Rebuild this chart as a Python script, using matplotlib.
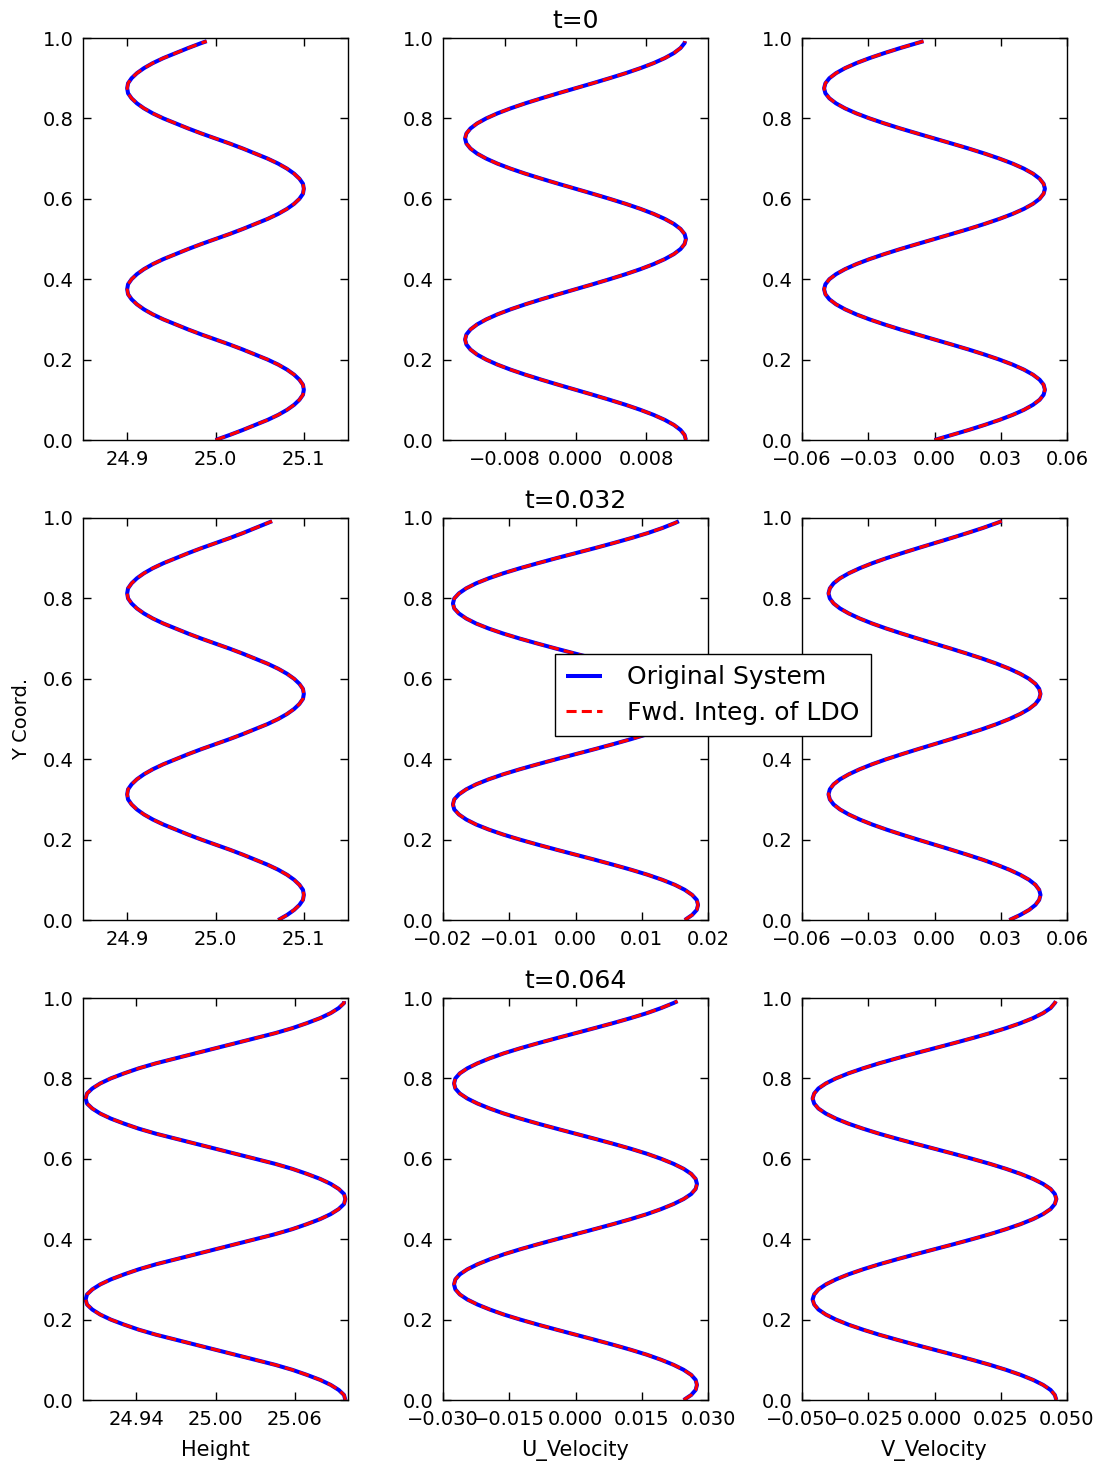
import matplotlib
matplotlib.use("Agg")
import matplotlib.pyplot as plt

# ---------------- data ----------------
# vertical coordinate of the profile samples (grid of the model)
Y_COORD = [k / 80 for k in range(80)] + [0.992]

# t = 0
HEIGHT_T0 = [25.000, 25.016, 25.031, 25.045, 25.059, 25.071, 25.081, 25.089, 25.095, 25.099,
             25.100, 25.099, 25.095, 25.089, 25.081, 25.071, 25.059, 25.045, 25.031, 25.016,
             25.000, 24.984, 24.969, 24.955, 24.941, 24.929, 24.919, 24.911, 24.905, 24.901,
             24.900, 24.901, 24.905, 24.911, 24.919, 24.929, 24.941, 24.955, 24.969, 24.984,
             25.000, 25.016, 25.031, 25.045, 25.059, 25.071, 25.081, 25.089, 25.095, 25.099,
             25.100, 25.099, 25.095, 25.089, 25.081, 25.071, 25.059, 25.045, 25.031, 25.016,
             25.000, 24.984, 24.969, 24.955, 24.941, 24.929, 24.919, 24.911, 24.905, 24.901,
             24.900, 24.901, 24.905, 24.911, 24.919, 24.929, 24.941, 24.955, 24.969, 24.984,
             24.990]
U_T0 = [0.01250, 0.01235, 0.01189, 0.01114, 0.01011, 0.00884, 0.00735, 0.00568, 0.00386, 0.00196,
        0.00000, -0.00196, -0.00386, -0.00568, -0.00735, -0.00884, -0.01011, -0.01114, -0.01189, -0.01235,
        -0.01250, -0.01235, -0.01189, -0.01114, -0.01011, -0.00884, -0.00735, -0.00568, -0.00386, -0.00196,
        0.00000, 0.00196, 0.00386, 0.00568, 0.00735, 0.00884, 0.01011, 0.01114, 0.01189, 0.01235,
        0.01250, 0.01235, 0.01189, 0.01114, 0.01011, 0.00884, 0.00735, 0.00568, 0.00386, 0.00196,
        0.00000, -0.00196, -0.00386, -0.00568, -0.00735, -0.00884, -0.01011, -0.01114, -0.01189, -0.01235,
        -0.01250, -0.01235, -0.01189, -0.01114, -0.01011, -0.00884, -0.00735, -0.00568, -0.00386, -0.00196,
        0.00000, 0.00196, 0.00386, 0.00568, 0.00735, 0.00884, 0.01011, 0.01114, 0.01189, 0.01235,
        0.01240]
V_T0 = [0.0000, 0.0078, 0.0155, 0.0227, 0.0294, 0.0354, 0.0405, 0.0446, 0.0476, 0.0494,
        0.0500, 0.0494, 0.0476, 0.0446, 0.0405, 0.0354, 0.0294, 0.0227, 0.0155, 0.0078,
        0.0000, -0.0078, -0.0155, -0.0227, -0.0294, -0.0354, -0.0405, -0.0446, -0.0476, -0.0494,
        -0.0500, -0.0494, -0.0476, -0.0446, -0.0405, -0.0354, -0.0294, -0.0227, -0.0155, -0.0078,
        0.0000, 0.0078, 0.0155, 0.0227, 0.0294, 0.0354, 0.0405, 0.0446, 0.0476, 0.0494,
        0.0500, 0.0494, 0.0476, 0.0446, 0.0405, 0.0354, 0.0294, 0.0227, 0.0155, 0.0078,
        0.0000, -0.0078, -0.0155, -0.0227, -0.0294, -0.0354, -0.0405, -0.0446, -0.0476, -0.0494,
        -0.0500, -0.0494, -0.0476, -0.0446, -0.0405, -0.0354, -0.0294, -0.0227, -0.0155, -0.0078,
        -0.0050]

# t = 0.032
HEIGHT_T1 = [25.071, 25.081, 25.089, 25.095, 25.099, 25.100, 25.099, 25.095, 25.089, 25.081,
             25.071, 25.059, 25.045, 25.031, 25.016, 25.000, 24.984, 24.969, 24.955, 24.941,
             24.929, 24.919, 24.911, 24.905, 24.901, 24.900, 24.901, 24.905, 24.911, 24.919,
             24.929, 24.941, 24.955, 24.969, 24.984, 25.000, 25.016, 25.031, 25.045, 25.059,
             25.071, 25.081, 25.089, 25.095, 25.099, 25.100, 25.099, 25.095, 25.089, 25.081,
             25.071, 25.059, 25.045, 25.031, 25.016, 25.000, 24.984, 24.969, 24.955, 24.941,
             24.929, 24.919, 24.911, 24.905, 24.901, 24.900, 24.901, 24.905, 24.911, 24.919,
             24.929, 24.941, 24.955, 24.969, 24.984, 25.000, 25.016, 25.031, 25.045, 25.059,
             25.064]
U_T1 = [0.0165, 0.0176, 0.0183, 0.0185, 0.0183, 0.0176, 0.0165, 0.0150, 0.0131, 0.0109,
        0.0084, 0.0057, 0.0029, 0.0000, -0.0029, -0.0057, -0.0084, -0.0109, -0.0131, -0.0150,
        -0.0165, -0.0176, -0.0183, -0.0185, -0.0183, -0.0176, -0.0165, -0.0150, -0.0131, -0.0109,
        -0.0084, -0.0057, -0.0029, 0.0000, 0.0029, 0.0057, 0.0084, 0.0109, 0.0131, 0.0150,
        0.0165, 0.0176, 0.0183, 0.0185, 0.0183, 0.0176, 0.0165, 0.0150, 0.0131, 0.0109,
        0.0084, 0.0057, 0.0029, 0.0000, -0.0029, -0.0057, -0.0084, -0.0109, -0.0131, -0.0150,
        -0.0165, -0.0176, -0.0183, -0.0185, -0.0183, -0.0176, -0.0165, -0.0150, -0.0131, -0.0109,
        -0.0084, -0.0057, -0.0029, 0.0000, 0.0029, 0.0057, 0.0084, 0.0109, 0.0131, 0.0150,
        0.0156]
V_T1 = [0.0339, 0.0388, 0.0428, 0.0457, 0.0474, 0.0480, 0.0474, 0.0457, 0.0428, 0.0388,
        0.0339, 0.0282, 0.0218, 0.0148, 0.0075, 0.0000, -0.0075, -0.0148, -0.0218, -0.0282,
        -0.0339, -0.0388, -0.0428, -0.0457, -0.0474, -0.0480, -0.0474, -0.0457, -0.0428, -0.0388,
        -0.0339, -0.0282, -0.0218, -0.0148, -0.0075, 0.0000, 0.0075, 0.0148, 0.0218, 0.0282,
        0.0339, 0.0388, 0.0428, 0.0457, 0.0474, 0.0480, 0.0474, 0.0457, 0.0428, 0.0388,
        0.0339, 0.0282, 0.0218, 0.0148, 0.0075, 0.0000, -0.0075, -0.0148, -0.0218, -0.0282,
        -0.0339, -0.0388, -0.0428, -0.0457, -0.0474, -0.0480, -0.0474, -0.0457, -0.0428, -0.0388,
        -0.0339, -0.0282, -0.0218, -0.0148, -0.0075, 0.0000, 0.0075, 0.0148, 0.0218, 0.0282,
        0.0304]

# t = 0.064
HEIGHT_T2 = [25.098, 25.097, 25.093, 25.087, 25.079, 25.069, 25.058, 25.045, 25.030, 25.015,
             25.000, 24.985, 24.970, 24.955, 24.942, 24.931, 24.921, 24.913, 24.907, 24.903,
             24.902, 24.903, 24.907, 24.913, 24.921, 24.931, 24.942, 24.955, 24.970, 24.985,
             25.000, 25.015, 25.030, 25.045, 25.058, 25.069, 25.079, 25.087, 25.093, 25.097,
             25.098, 25.097, 25.093, 25.087, 25.079, 25.069, 25.058, 25.045, 25.030, 25.015,
             25.000, 24.985, 24.970, 24.955, 24.942, 24.931, 24.921, 24.913, 24.907, 24.903,
             24.902, 24.903, 24.907, 24.913, 24.921, 24.931, 24.942, 24.955, 24.970, 24.985,
             25.000, 25.015, 25.030, 25.045, 25.058, 25.069, 25.079, 25.087, 25.093, 25.097,
             25.097]
U_T2 = [0.0245, 0.0262, 0.0272, 0.0275, 0.0272, 0.0262, 0.0245, 0.0222, 0.0194, 0.0162,
        0.0125, 0.0085, 0.0043, 0.0000, -0.0043, -0.0085, -0.0125, -0.0162, -0.0194, -0.0222,
        -0.0245, -0.0262, -0.0272, -0.0275, -0.0272, -0.0262, -0.0245, -0.0222, -0.0194, -0.0162,
        -0.0125, -0.0085, -0.0043, 0.0000, 0.0043, 0.0085, 0.0125, 0.0162, 0.0194, 0.0222,
        0.0245, 0.0262, 0.0272, 0.0275, 0.0272, 0.0262, 0.0245, 0.0222, 0.0194, 0.0162,
        0.0125, 0.0085, 0.0043, 0.0000, -0.0043, -0.0085, -0.0125, -0.0162, -0.0194, -0.0222,
        -0.0245, -0.0262, -0.0272, -0.0275, -0.0272, -0.0262, -0.0245, -0.0222, -0.0194, -0.0162,
        -0.0125, -0.0085, -0.0043, 0.0000, 0.0043, 0.0085, 0.0125, 0.0162, 0.0194, 0.0222,
        0.0231]
V_T2 = [0.0460, 0.0454, 0.0438, 0.0410, 0.0372, 0.0325, 0.0270, 0.0209, 0.0142, 0.0072,
        0.0000, -0.0072, -0.0142, -0.0209, -0.0270, -0.0325, -0.0372, -0.0410, -0.0438, -0.0454,
        -0.0460, -0.0454, -0.0438, -0.0410, -0.0372, -0.0325, -0.0270, -0.0209, -0.0142, -0.0072,
        0.0000, 0.0072, 0.0142, 0.0209, 0.0270, 0.0325, 0.0372, 0.0410, 0.0438, 0.0454,
        0.0460, 0.0454, 0.0438, 0.0410, 0.0372, 0.0325, 0.0270, 0.0209, 0.0142, 0.0072,
        0.0000, -0.0072, -0.0142, -0.0209, -0.0270, -0.0325, -0.0372, -0.0410, -0.0438, -0.0454,
        -0.0460, -0.0454, -0.0438, -0.0410, -0.0372, -0.0325, -0.0270, -0.0209, -0.0142, -0.0072,
        0.0000, 0.0072, 0.0142, 0.0209, 0.0270, 0.0325, 0.0372, 0.0410, 0.0438, 0.0454,
        0.0458]

TIMES = ["t=0", "t=0.032", "t=0.064"]
VARIABLES = ["Height", "U_Velocity", "V_Velocity"]
SERIES_LABELS = ["Original System", "Fwd. Integ. of LDO"]
Y_LABEL = "Y Coord."

# x ticks / labels / limits for each panel [row][col]
X_TICKS = [
    [[24.9, 25.0, 25.1], [-0.008, 0.0, 0.008], [-0.06, -0.03, 0.0, 0.03, 0.06]],
    [[24.9, 25.0, 25.1], [-0.02, -0.01, 0.0, 0.01, 0.02], [-0.06, -0.03, 0.0, 0.03, 0.06]],
    [[24.94, 25.00, 25.06], [-0.030, -0.015, 0.0, 0.015, 0.030], [-0.050, -0.025, 0.0, 0.025, 0.050]],
]
X_TICK_LABELS = [
    [["24.9", "25.0", "25.1"], ["\u22120.008", "0.000", "0.008"],
     ["\u22120.06", "\u22120.03", "0.00", "0.03", "0.06"]],
    [["24.9", "25.0", "25.1"], ["\u22120.02", "\u22120.01", "0.00", "0.01", "0.02"],
     ["\u22120.06", "\u22120.03", "0.00", "0.03", "0.06"]],
    [["24.94", "25.00", "25.06"], ["\u22120.030", "\u22120.015", "0.000", "0.015", "0.030"],
     ["\u22120.050", "\u22120.025", "0.000", "0.025", "0.050"]],
]
X_LIMITS = [
    [(24.85, 25.15), (-0.015, 0.015), (-0.06, 0.06)],
    [(24.85, 25.15), (-0.02, 0.02), (-0.06, 0.06)],
    [(24.90, 25.10), (-0.03, 0.03), (-0.05, 0.05)],
]
Y_TICKS = [0.0, 0.2, 0.4, 0.6, 0.8, 1.0]
Y_TICK_LABELS = ["0.0", "0.2", "0.4", "0.6", "0.8", "1.0"]

PROFILES = [
    [HEIGHT_T0, U_T0, V_T0],
    [HEIGHT_T1, U_T1, V_T1],
    [HEIGHT_T2, U_T2, V_T2],
]

# ---------------- figure ----------------
plt.rcParams["font.family"] = ["DejaVu Sans"]
W, H = 1099, 1466
fig = plt.figure(figsize=(W / 100, H / 100), dpi=100, facecolor="white")

col_x = [83, 443, 802]
row_top = [38, 518, 998]
ax_w, ax_h = 265, 402

handles = None
for r in range(3):
    for c in range(3):
        ax = fig.add_axes([col_x[c] / W, 1 - (row_top[r] + ax_h) / H, ax_w / W, ax_h / H])
        vals = PROFILES[r][c]
        l1, = ax.plot(vals, Y_COORD, color="#0000ff", lw=2.9, solid_joinstyle="round",
                      solid_capstyle="butt", label=SERIES_LABELS[0])
        l2, = ax.plot(vals, Y_COORD, color="#ff0000", lw=2.2, ls=(0, (3.3, 1.7)),
                      label=SERIES_LABELS[1])
        if handles is None:
            handles = [l1, l2]
        ax.set_xlim(*X_LIMITS[r][c])
        ax.set_ylim(0, 1)
        ax.set_xticks(X_TICKS[r][c])
        ax.set_xticklabels(X_TICK_LABELS[r][c])
        ax.set_yticks(Y_TICKS)
        ax.set_yticklabels(Y_TICK_LABELS)
        ax.tick_params(direction="in", top=True, right=True, length=6, width=1,
                       labelsize=14, pad=7, colors="black")
        for sp in ax.spines.values():
            sp.set_linewidth(1.0)
            sp.set_color("black")
        if c == 1:
            ax.set_title(TIMES[r], fontsize=18, pad=7)
        if r == 2:
            ax.set_xlabel(VARIABLES[c], fontsize=15, labelpad=8)
        if r == 1 and c == 0:
            ax.set_ylabel(Y_LABEL, fontsize=14, labelpad=8)

leg = fig.legend(handles, SERIES_LABELS, loc="center",
                 bbox_to_anchor=(713 / W, 1 - 695 / H), fontsize=18,
                 handlelength=1.45, handletextpad=1.0, borderpad=0.45,
                 labelspacing=0.45, fancybox=False, shadow=False, framealpha=1)
leg.get_frame().set_edgecolor("black")
leg.get_frame().set_linewidth(1.0)

fig.savefig("out.png", dpi=100, facecolor="white")
